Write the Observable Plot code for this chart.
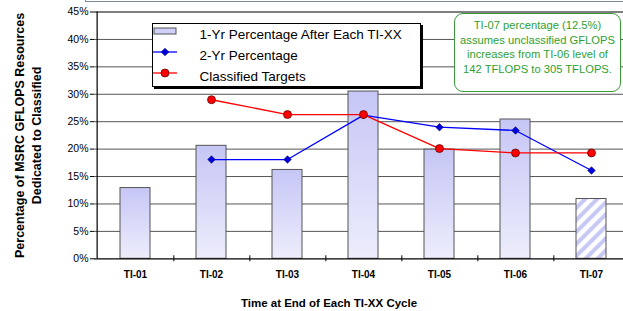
<!DOCTYPE html>
<html><head><meta charset="utf-8">
<script src="https://cdn.jsdelivr.net/npm/d3@7"></script>
<script src="https://cdn.jsdelivr.net/npm/@observablehq/plot@0.6"></script>
<style>
body{margin:0;background:#fff;font-family:"Liberation Sans",Arial,sans-serif;}
#wrap{position:relative;width:623px;height:311px;overflow:hidden;background:#fff;}
#wrap svg{position:absolute;left:0;top:0;}
#topframe{position:absolute;left:85px;top:-3px;width:560px;height:3px;border:1px solid #7f8c99;}
#legend{position:absolute;left:151.5px;top:23px;width:267px;height:62px;border:1px solid #000;box-shadow:2px 2px 0 #000;background:#fff;}
.lrow{position:absolute;left:0;height:20px;font-size:13.5px;color:#000;white-space:nowrap;}
.lrow svg{position:absolute;left:19px;top:4px;}
.lrow span{position:absolute;left:47px;top:1px;line-height:18px;}
#note{position:absolute;left:454px;top:13px;width:165px;height:77px;border:1.3px solid #3a9a3a;border-radius:9px;background:#fff;color:#2f9f2f;font-size:11.2px;line-height:14.5px;text-align:center;box-sizing:content-box;}
#note div{padding-top:4px;}
</style></head><body>
<div id="wrap"></div>
<script>
// ---- data ----
const cycles = ["TI-01", "TI-02", "TI-03", "TI-04", "TI-05", "TI-06", "TI-07"];
const oneYrPct = [12.9, 20.6, 16.2, 30.5, 19.9, 25.4, 10.9];
const twoYrPct = [null, 18.1, 18.1, 26.2, 24.0, 23.4, 16.1];
const classifiedTargets = [null, 29.0, 26.3, 26.3, 20.1, 19.3, 19.3];
const yTicks = [0, 5, 10, 15, 20, 25, 30, 35, 40, 45];
const projectedCycle = "TI-07";
const legendLabels = ["1-Yr Percentage After Each TI-XX", "2-Yr Percentage", "Classified Targets"];
const noteLines = ["TI-07 percentage (12.5%)", "assumes unclassified GFLOPS", "increases from TI-06 level of", "142 TFLOPS to 305 TFLOPS."];
const yTitle = ["Percentage of MSRC GFLOPS Resources", "Dedicated to Classified"];
const xTitle = "Time at End of Each TI-XX Cycle";

const bars = cycles.map((c, i) => ({cycle: c, value: oneYrPct[i]}));
const two = cycles.map((c, i) => ({cycle: c, value: twoYrPct[i]})).filter(d => d.value != null);
const targ = cycles.map((c, i) => ({cycle: c, value: classifiedTargets[i]})).filter(d => d.value != null);

const xRange = [94, 631];
const bw = (xRange[1] - xRange[0]) / cycles.length;
const font = "'Liberation Sans', Arial, sans-serif";

const plot = Plot.plot({
  width: 623, height: 311,
  marginLeft: 94, marginRight: 0, marginTop: 11.5, marginBottom: 52.7,
  x: {domain: cycles, range: xRange, padding: 0, axis: null},
  y: {domain: [0, 45], range: [258.3, 11.5], axis: null},
  style: {fontFamily: font, background: "transparent", color: "#000"},
  marks: [
    Plot.ruleY(yTicks.filter(v => v > 0 && v < 45), {y: d => d, stroke: "#555", strokeWidth: 1}),
    Plot.barY(bars, {filter: d => d.cycle !== projectedCycle, x: "cycle", y: "value", fill: "url(#barGrad)", stroke: "#555", strokeWidth: 1, insetLeft: 23, insetRight: 23}),
    Plot.barY(bars, {filter: d => d.cycle === projectedCycle, x: "cycle", y: "value", fill: "url(#hatch)", stroke: "#555", strokeWidth: 1, insetLeft: 23, insetRight: 23}),
    Plot.ruleY([0, 45], {y: d => d, stroke: "#000", strokeWidth: 1.2}),
    Plot.ruleX([cycles[0]], {x: d => d, y1: 0, y2: 45, dx: -bw / 2, stroke: "#000", strokeWidth: 1.2}),
    Plot.ruleX(cycles.slice(0, -1), {x: d => d, y1: -0.55, y2: 0.55, dx: bw / 2, stroke: "#000", strokeWidth: 1}),
    Plot.axisY(yTicks, {anchor: "left", tickSize: 4, tickPadding: 2, tickFormat: d => d + "%", fontSize: 10.5, label: null, stroke: "#000"}),
    Plot.axisX({anchor: "bottom", tickSize: 0, tickPadding: 12.5, fontSize: 10, fontWeight: "bold", label: null}),
    Plot.line(two, {x: "cycle", y: "value", stroke: "#0000ff", strokeWidth: 1.3}),
    Plot.dot(two, {x: "cycle", y: "value", symbol: "diamond2", r: 3.4, fill: "#0000dd", stroke: "#000070", strokeWidth: 0.6}),
    Plot.line(targ, {x: "cycle", y: "value", stroke: "#ff0000", strokeWidth: 1.3}),
    Plot.dot(targ, {x: "cycle", y: "value", r: 4, fill: "#ff0000", stroke: "#500000", strokeWidth: 0.7}),
    Plot.text([yTitle.join("\n")], {text: d => d, frameAnchor: "left", dx: -67.5, rotate: -90, fontWeight: "bold", fontSize: 12.5, lineHeight: 1.36, textAnchor: "middle", lineAnchor: "middle"}),
    Plot.text([xTitle], {text: d => d, frameAnchor: "bottom", dx: -30, dy: 44.7, lineAnchor: "middle", fontWeight: "bold", fontSize: 11.5})
  ]
});

d3.select(plot).insert("defs", ":first-child").html(`
  <linearGradient id="barGrad" x1="0" y1="0" x2="0" y2="1">
    <stop offset="0" stop-color="#c6c6f6"/>
    <stop offset="1" stop-color="#ededfc"/>
  </linearGradient>
  <pattern id="hatch" patternUnits="userSpaceOnUse" width="8.5" height="8.5" patternTransform="rotate(45)">
    <rect width="8.5" height="8.5" fill="#fff"/>
    <rect width="4" height="8.5" fill="#c8c8f4"/>
  </pattern>`);

const wrap = document.getElementById("wrap");
wrap.appendChild(plot);

const topFrame = document.createElement("div");
topFrame.id = "topframe";
wrap.appendChild(topFrame);

// legend
const leg = document.createElement("div");
leg.id = "legend";
const swatches = [
  `<svg width="24" height="12"><rect x="1" y="3" width="22" height="6" fill="#d0d0f8" stroke="#555" stroke-width="1"/></svg>`,
  `<svg width="24" height="12"><line x1="0" y1="6" x2="24" y2="6" stroke="#0000ff" stroke-width="1.3"/><path d="M12,2.2L15.8,6L12,9.8L8.2,6Z" fill="#0000dd" stroke="#000070" stroke-width="0.6"/></svg>`,
  `<svg width="24" height="12"><line x1="0" y1="6" x2="24" y2="6" stroke="#ff0000" stroke-width="1.3"/><circle cx="12" cy="6" r="4" fill="#ff0000" stroke="#500000" stroke-width="0.7"/></svg>`
];
const rowTops = [0.7, 21.7, 43];
legendLabels.forEach((lab, i) => {
  const r = document.createElement("div");
  r.className = "lrow";
  r.style.top = rowTops[i] + "px";
  r.innerHTML = swatches[i] + `<span>${lab}</span>`;
  leg.appendChild(r);
});
wrap.appendChild(leg);

// note
const note = document.createElement("div");
note.id = "note";
note.innerHTML = `<div>${noteLines.join("<br>")}</div>`;
wrap.appendChild(note);
</script>
</body></html>
